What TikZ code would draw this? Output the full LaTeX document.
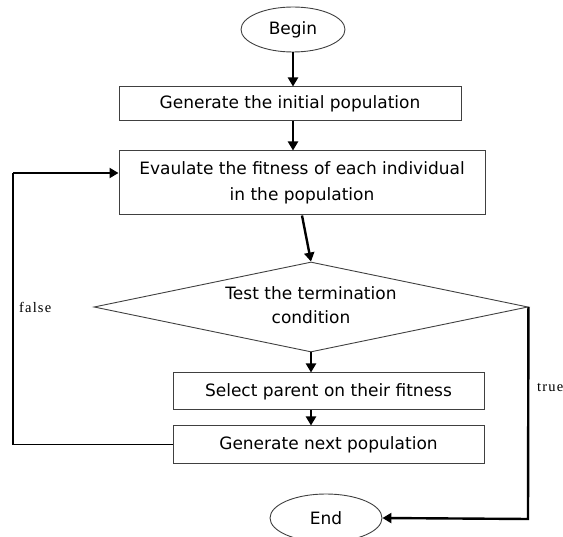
\documentclass[tikz,border=0pt]{standalone}
\usepackage{fontspec}
\setmainfont{DejaVu Sans}
\newfontfamily\labfont[LetterSpace=8]{Liberation Serif}
\usetikzlibrary{shapes.geometric,arrows.meta}
\begin{document}
\begin{tikzpicture}[x=1pt,y=-1pt,
  boxstyle/.style={draw=black!75,line width=1pt,rectangle,inner sep=0pt,align=center,font=\fontsize{17}{26}\selectfont},
  termstyle/.style={draw=black!75,line width=0.9pt,ellipse,inner sep=0pt,font=\fontsize{17}{20}\selectfont},
  arr/.style={line width=2.4pt,-{Triangle[length=9pt,width=10pt]}},
  lab/.style={font=\labfont\fontsize{14.5}{16}\selectfont,inner sep=0pt}]
\useasboundingbox (0,0) rectangle (563,537);
\node[termstyle,minimum width=104pt,minimum height=45pt] (begin) at (293,29.5) {Begin};
\node[boxstyle,minimum width=342pt,minimum height=34pt] (init) at (290,104) {Generate the initial population};
\node[boxstyle,minimum width=366pt,minimum height=64pt] (eval) at (302,183) {Evaulate the fitness of each individual\\in the population};
\node[draw=black!75,line width=0.9pt,diamond,shape aspect=4.82,inner sep=0pt,minimum width=434pt,minimum height=90pt] (test) at (311,307) {};
\node[font=\fontsize{17}{24}\selectfont,align=center,inner sep=0pt] (testtext) at (311,305) {Test the termination\\condition};
\node[boxstyle,minimum width=311pt,minimum height=37pt] (select) at (328.5,391.5) {Select parent on their fitness};
\node[boxstyle,minimum width=311pt,minimum height=38pt] (next) at (328.5,445) {Generate next population};
\node[termstyle,minimum width=112pt,minimum height=48pt] (end) at (326,518) {End};
\coordinate (fb) at (13,445);
\coordinate (ft) at (13,173);
\coordinate (tb) at (528,519);
\draw[arr] (begin.south) -- (begin.south |- init.north);
\draw[arr] (begin.south |- init.south) -- (begin.south |- eval.north);
\draw[arr] (eval.south) -- (test.north);
\draw[arr] (test.south) -- (test.south |- select.north);
\draw[arr] (test.south |- select.south) -- (test.south |- next.north);
\draw[line width=1pt] (next.west) -- (fb);
\draw[line width=1.6pt] (fb) -- (ft);
\draw[arr] (ft) -- (eval.west |- ft);
\draw[arr] (test.east) -- (tb) -- (end.east);
\node[lab,anchor=west] (lfalse) at (19,307) {false};
\node[lab,anchor=west] (ltrue) at (537,387) {true};
\end{tikzpicture}
\end{document}
